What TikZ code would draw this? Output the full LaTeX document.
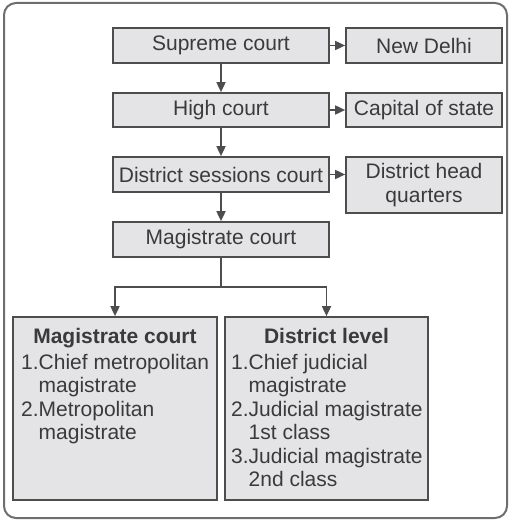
\documentclass[tikz,border=0pt]{standalone}
\usepackage{fontspec}
\setmainfont{Liberation Sans}
\usetikzlibrary{arrows.meta}
\definecolor{boxfill}{HTML}{E4E4E6}
\definecolor{boxline}{HTML}{4D4D4D}
\definecolor{txt}{HTML}{3A3A3A}
\definecolor{frame}{HTML}{6E6E6E}
\begin{document}
\begin{tikzpicture}[x=1pt,y=-1pt,
  court/.style={draw=boxline, fill=boxfill, line width=1.7pt, inner sep=0pt, text=txt,
    font=\fontsize{21}{24}\selectfont, align=center},
  txtstyle/.style={inner sep=0pt, text=txt, font=\fontsize{21}{23.5}\selectfont},
  arr/.style={draw=boxline, line width=1.7pt, -{Triangle[length=10pt,width=9pt]}},
  plain/.style={draw=boxline, line width=1.7pt},
]
\useasboundingbox (0,0) rectangle (509,521);
\draw[draw=frame, line width=2pt, rounded corners=12pt] (4,3) rectangle (507,518);

\node[court, minimum width=216pt, minimum height=35pt] (sc) at (221,45.5) {Supreme court};
\node[court, minimum width=156pt, minimum height=35pt] (nd) at (424,45.5) {New Delhi};
\node[court, minimum width=216pt, minimum height=34pt] (hc) at (221,110) {High court};
\node[court, minimum width=156pt, minimum height=34pt] (cs) at (424,110) {Capital of state};
\node[court, minimum width=216pt, minimum height=35pt] (dsc) at (221,174.5) {District sessions court};
\node[court, minimum width=156pt, minimum height=56pt] (dhq) at (424,185) {District head\\quarters};
\node[court, minimum width=216pt, minimum height=35pt] (mc) at (221,239.5) {Magistrate court};

\node[court, minimum width=204pt, minimum height=183pt] (lb) at (115,408.5) {};
\node[court, minimum width=203pt, minimum height=183pt] (rb) at (326.5,408.5) {};

\node[txtstyle, anchor=base, font=\fontsize{21}{23.5}\selectfont\bfseries] (lbt) at (115,343) {Magistrate court};
\node[txtstyle, anchor=base, font=\fontsize{21}{23.5}\selectfont\bfseries] (rbt) at (326.5,343) {District level};

\node[txtstyle, anchor=north west, align=left] (lbl) at (21,354) {1.Chief metropolitan\\\phantom{1.}magistrate\\2.Metropolitan\\\phantom{2.}magistrate};
\node[txtstyle, anchor=north west, align=left] (rbl) at (231,354) {1.Chief judicial\\\phantom{1.}magistrate\\2.Judicial magistrate\\\phantom{2.}1st class\\3.Judicial magistrate\\\phantom{3.}2nd class};

\draw[arr] (sc.east) -- (nd.west);
\draw[arr] (hc.east) -- (cs.west);
\draw[arr] (dsc.east) -- (dsc.east -| dhq.west);
\draw[arr] (sc.south) -- (hc.north);
\draw[arr] (hc.south) -- (dsc.north);
\draw[arr] (dsc.south) -- (mc.north);
\coordinate (br) at (221,287);
\draw[plain] (mc.south) -- (br);
\draw[arr] (br) -| (lb.north);
\draw[arr] (br) -| (rb.north);
\end{tikzpicture}
\end{document}
